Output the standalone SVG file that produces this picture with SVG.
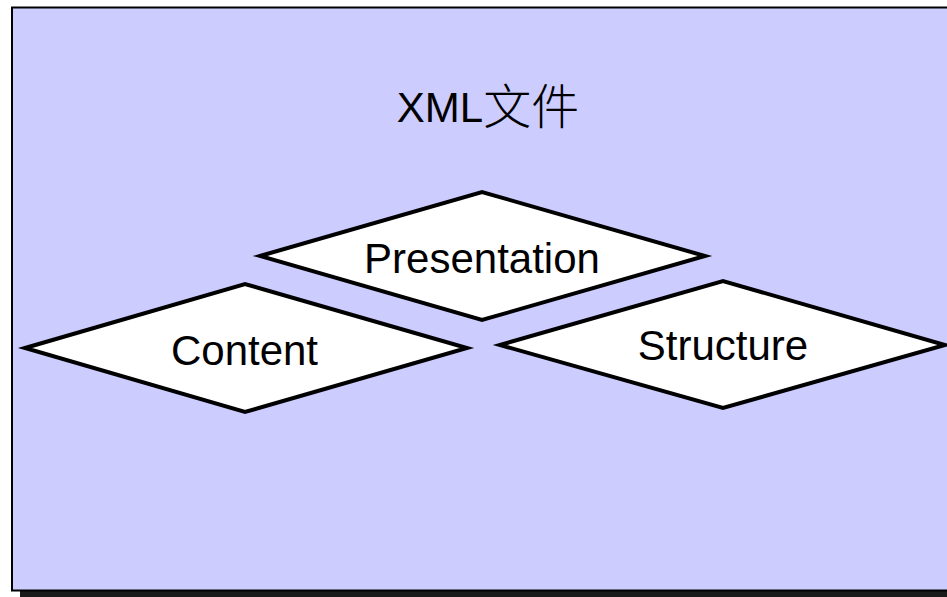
<svg xmlns="http://www.w3.org/2000/svg" width="947" height="597" viewBox="0 0 947 597">
  <style>
    .frame { fill: #ccccff; stroke: #000; stroke-width: 2; }
    .shadow { fill: #1a1a1a; }
    .diamond { fill: #fff; stroke: #000; stroke-width: 4; stroke-linejoin: miter; }
    .label { font-family: "Liberation Sans", Arial, "Noto Sans CJK SC", sans-serif; font-size: 42px; fill: #000; text-anchor: middle; }
    .cjk { font-family: "Noto Sans CJK SC", sans-serif; font-weight: 300; font-size: 48px; }
  </style>
  <rect width="947" height="597" fill="#fff"/>
  <!-- background panel with drop shadow -->
  <rect class="shadow" x="20" y="14" width="940" height="583"/>
  <rect class="frame" x="12" y="7.5" width="950" height="583"/>
  <text class="label" x="488" y="122" font-size="45">XML<tspan class="cjk" dy="2">文件</tspan></text>

  <g id="presentation">
    <polygon class="diamond" points="260,256 482,192 705,256 482,320"/>
    <text class="label" x="482" y="273">Presentation</text>
  </g>
  <g id="content">
    <polygon class="diamond" points="25,348 245,284 467,348 245,412"/>
    <text class="label" x="244.5" y="365">Content</text>
  </g>
  <g id="structure">
    <polygon class="diamond" points="500,345 723,281 945,345 723,408"/>
    <text class="label" x="723" y="360">Structure</text>
  </g>
  <g id="connectors"/>
</svg>
